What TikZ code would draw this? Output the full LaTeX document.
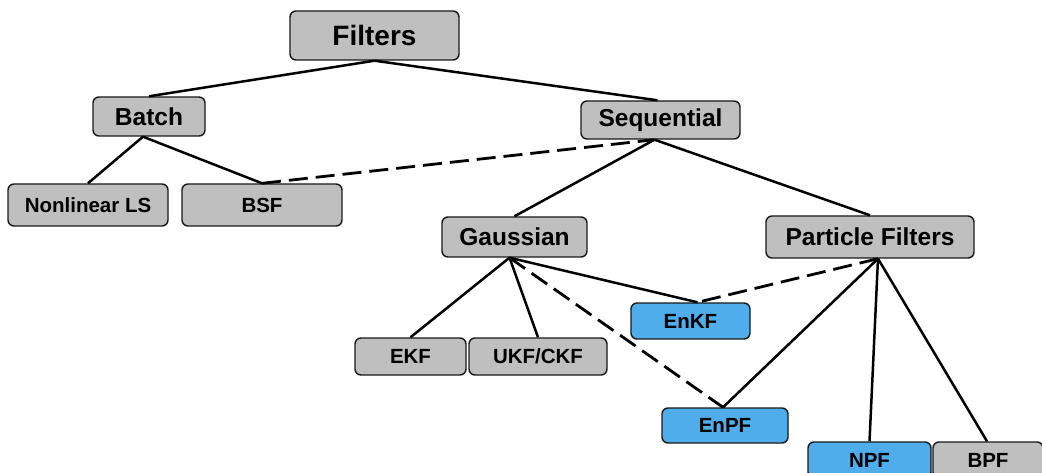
\documentclass[tikz,border=0pt]{standalone}
\usepackage{fontspec}
\setmainfont{Liberation Sans}
\usetikzlibrary{calc}
\definecolor{boxgray}{RGB}{191,191,191}
\definecolor{boxblue}{RGB}{78,173,234}
\definecolor{edgedark}{RGB}{25,25,25}
\tikzset{
  box/.style={draw=edgedark, line width=1.4pt, rounded corners=6pt, fill=boxgray,
    inner sep=0pt, align=center, font=\bfseries},
  bluebox/.style={box, fill=boxblue},
  big/.style={font=\fontsize{28}{30}\selectfont\bfseries},
  mid/.style={font=\fontsize{24.5}{26}\selectfont\bfseries},
  small/.style={font=\fontsize{20.5}{22}\selectfont\bfseries},
  link/.style={line width=2.5pt, draw=black},
  dlink/.style={link, line width=2.8pt, dash pattern=on 19pt off 8pt}
}
\begin{document}
\begin{tikzpicture}[x=1pt,y=-1pt]
\useasboundingbox (0,0) rectangle (1042,473);
% tree boxes
\node[box,big, minimum width=169pt, minimum height=49pt] (filters) at (374.5,35.5) {Filters};
\node[box,mid, minimum width=112pt, minimum height=39pt] (batch) at (149,116.5) {Batch};
\node[box,mid, minimum width=159pt, minimum height=38pt] (seq) at (660.5,120) {Sequential};
\node[box,small, minimum width=160pt, minimum height=42pt] (nls) at (88,205) {Nonlinear LS};
\node[box,small, minimum width=160pt, minimum height=42pt] (bsf) at (262,205) {BSF};
\node[box,mid, minimum width=145pt, minimum height=40pt] (gauss) at (514.5,237) {Gaussian};
\node[box,mid, minimum width=208pt, minimum height=42pt] (pf) at (870,237) {Particle Filters};
\node[box,small, minimum width=111pt, minimum height=37pt] (ekf) at (410.5,356.5) {EKF};
\node[box,small, minimum width=138pt, minimum height=37pt] (ukf) at (538,356.5) {UKF/CKF};
\node[bluebox,small, minimum width=119pt, minimum height=36pt] (enkf) at (690.5,321) {EnKF};
\node[bluebox,small, minimum width=126pt, minimum height=35pt] (enpf) at (725,425.5) {EnPF};
\node[bluebox,small, minimum width=123pt, minimum height=36pt] (npf) at (869.5,460) {NPF};
\node[box,small, minimum width=110pt, minimum height=36pt] (bpf) at (988,460) {BPF};
% connectors
\draw[link] (filters.south) -- (batch.north);
\draw[link] (filters.south) -- ($(seq.north)+(-3,0)$);
\draw[link] ($(batch.south)+(-6,0)$) -- (nls.north);
\draw[link] ($(batch.south)+(-6,0)$) -- (bsf.north);
\draw[dlink] (bsf.north) -- ($(seq.south)+(-6,0)$);
\draw[link] ($(seq.south)+(-6,0)$) -- (gauss.north);
\draw[link] ($(seq.south)+(-6,0)$) -- (pf.north);
\draw[link] ($(gauss.south)+(-5,0)$) -- (ekf.north);
\draw[link] ($(gauss.south)+(-5,0)$) -- (ukf.north);
\draw[link] ($(gauss.south)+(-5,0)$) -- ($(enkf.north)+(7,0)$);
\draw[dlink] ($(gauss.south)+(-5,0)$) -- ($(enpf.north)+(-2,0)$);
\draw[dlink] ($(pf.south)+(8,0)$) -- ($(enkf.north)+(7,0)$);
\draw[link] ($(pf.south)+(8,0)$) -- ($(enpf.north)+(-2,0)$);
\draw[link] ($(pf.south)+(8,0)$) -- (npf.north);
\draw[link] ($(pf.south)+(8,0)$) -- ($(bpf.north)+(-1,0)$);
\end{tikzpicture}
\end{document}
